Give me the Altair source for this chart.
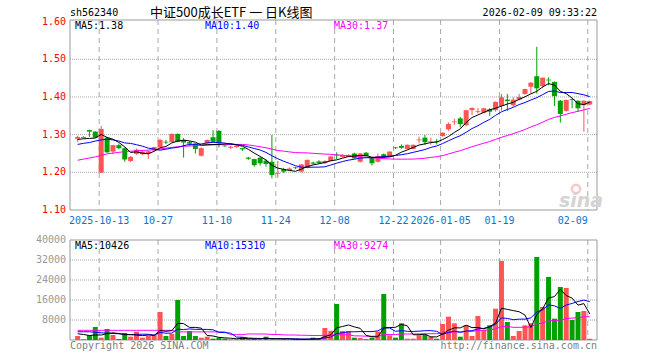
import altair as alt
import pandas as pd
import numpy as np

# ---- data (trading-day index 0..87, 2025-09-29 .. 2026-02-09)
opens = [1.289, 1.291, 1.312, 1.308, 1.199, 1.292, 1.255, 1.272, 1.264, 1.230,
         1.249, 1.248, 1.250, 1.258, 1.267, 1.281, 1.280, 1.302, 1.286, 1.280,
         1.276, 1.244, 1.277, 1.293, 1.310, 1.271, 1.265, 1.267, 1.264, 1.239,
         1.235, 1.239, 1.231, 1.228, 1.196, 1.208, 1.206, 1.213, 1.202, 1.212,
         1.226, 1.229, 1.224, 1.230, 1.247, 1.241, 1.241, 1.250, 1.228, 1.252,
         1.239, 1.228, 1.248, 1.241, 1.266, 1.270, 1.262, 1.262, 1.285, 1.292,
         1.280, 1.282, 1.296, 1.314, 1.333, 1.343, 1.325, 1.365, 1.360, 1.358,
         1.367, 1.365, 1.376, 1.393, 1.378, 1.393, 1.408, 1.427, 1.455, 1.429,
         1.446, 1.440, 1.390, 1.363, 1.394, 1.390, 1.378, 1.380]
highs = [1.297, 1.296, 1.313, 1.309, 1.323, 1.294, 1.273, 1.276, 1.266, 1.243,
         1.263, 1.258, 1.258, 1.268, 1.289, 1.286, 1.303, 1.303, 1.291, 1.283,
         1.277, 1.266, 1.287, 1.312, 1.312, 1.272, 1.270, 1.272, 1.265, 1.241,
         1.236, 1.240, 1.235, 1.299, 1.230, 1.212, 1.213, 1.215, 1.222, 1.234,
         1.228, 1.232, 1.232, 1.243, 1.253, 1.248, 1.248, 1.252, 1.251, 1.254,
         1.240, 1.250, 1.250, 1.256, 1.267, 1.274, 1.274, 1.274, 1.295, 1.299,
         1.292, 1.288, 1.306, 1.332, 1.342, 1.347, 1.366, 1.372, 1.371, 1.371,
         1.370, 1.388, 1.408, 1.408, 1.399, 1.408, 1.422, 1.439, 1.533, 1.452,
         1.452, 1.441, 1.392, 1.393, 1.395, 1.391, 1.391, 1.390]
lows = [1.280, 1.289, 1.294, 1.291, 1.198, 1.252, 1.248, 1.261, 1.228, 1.227,
        1.247, 1.246, 1.236, 1.257, 1.265, 1.275, 1.279, 1.280, 1.239, 1.270,
        1.250, 1.242, 1.276, 1.280, 1.266, 1.268, 1.262, 1.265, 1.257, 1.233,
        1.215, 1.218, 1.215, 1.184, 1.186, 1.198, 1.203, 1.209, 1.200, 1.211,
        1.221, 1.223, 1.222, 1.229, 1.235, 1.239, 1.240, 1.236, 1.226, 1.242,
        1.218, 1.226, 1.238, 1.240, 1.262, 1.262, 1.261, 1.261, 1.277, 1.273,
        1.273, 1.274, 1.295, 1.310, 1.326, 1.319, 1.322, 1.352, 1.356, 1.356,
        1.350, 1.361, 1.364, 1.363, 1.374, 1.391, 1.406, 1.409, 1.409, 1.423,
        1.431, 1.376, 1.332, 1.361, 1.370, 1.361, 1.308, 1.378]
closes = [1.294, 1.294, 1.308, 1.292, 1.315, 1.253, 1.272, 1.264, 1.234, 1.241,
          1.260, 1.255, 1.256, 1.267, 1.286, 1.279, 1.302, 1.281, 1.279, 1.276,
          1.262, 1.264, 1.286, 1.281, 1.277, 1.269, 1.268, 1.271, 1.261, 1.236,
          1.219, 1.224, 1.222, 1.193, 1.198, 1.202, 1.210, 1.211, 1.221, 1.233,
          1.223, 1.225, 1.230, 1.242, 1.245, 1.246, 1.246, 1.237, 1.250, 1.243,
          1.224, 1.243, 1.240, 1.255, 1.264, 1.265, 1.273, 1.273, 1.287, 1.280,
          1.282, 1.280, 1.305, 1.328, 1.335, 1.328, 1.365, 1.371, 1.362, 1.370,
          1.361, 1.387, 1.399, 1.389, 1.393, 1.400, 1.421, 1.438, 1.423, 1.451,
          1.444, 1.402, 1.355, 1.392, 1.392, 1.370, 1.390, 1.389]
volumes = [1600, 400, 1870, 5200, 930, 4400, 2000, 400, 2800, 1330,
           3300, 930, 1600, 2000, 11200, 1600, 2400, 16000, 1600, 3600,
           1600, 930, 1330, 530, 930, 530, 270, 270, 1200, 270,
           530, 270, 1330, 270, 270, 270, 270, 270, 270, 270,
           930, 530, 4800, 3700, 14400, 3600, 3600, 930, 800, 300,
           930, 3330, 18400, 1870, 930, 6670, 530, 530, 1870, 2000,
           1330, 530, 6400, 9330, 6670, 1330, 5870, 1600, 9600, 4000,
           5870, 12530, 31600, 7200, 1600, 3600, 5870, 6670, 33200, 13200,
           25200, 8530, 21200, 20800, 8000, 11200, 11600, 500]

# moving-average values before enough in-window data exist
ma5_head = [1.287, 1.289, 1.290, 1.291]
ma10_head = [1.274, 1.277, 1.279, 1.283, 1.286, 1.288, 1.286, 1.283, 1.278]
ma30_head = [1.232, 1.235, 1.238, 1.241, 1.245, 1.249, 1.251, 1.253, 1.255, 1.256,
             1.257, 1.258, 1.259, 1.260, 1.262, 1.264, 1.266, 1.268, 1.269, 1.270,
             1.271, 1.271, 1.272, 1.273, 1.273, 1.274, 1.274, 1.274, 1.274]
vma5_head = [2500, 2200, 1800, 2000]
vma10_head = [3300, 3300, 3300, 3100, 2900, 2700, 2600, 2500, 2300]
vma30_head = [3870] * 17 + [3250] * 9 + [2150] * 3

tick_idx = [4, 14, 24, 34, 44, 54, 62, 72]
tick_labels = ["2025-10-13", "10-27", "11-10", "11-24", "12-08", "12-22", "2026-01-05", "01-19"]
last_idx = [87]
last_label = ["02-09"]
price_ticks = [1.10, 1.20, 1.30, 1.40, 1.50, 1.60]
price_grid = [1.20, 1.30, 1.40, 1.50]
vol_ticks = [8000, 16000, 24000, 32000, 40000]
vol_grid = [8000, 16000, 24000, 32000]

RED = "#ff5454"
GREEN = "#00a000"
MONO = "DejaVu Sans Mono"
W, H = 527, 320
P_TOP, P_BOT = 0, 190
V_TOP, V_BOT = 220, 320

n = len(closes)
idx = np.arange(n)


def with_head(series, k, head):
    m = pd.Series(series, dtype=float).rolling(k).mean().to_numpy()
    m[:len(head)] = head
    return m


df = pd.DataFrame({
    "i": idx, "o": opens, "h": highs, "l": lows, "c": closes, "v": volumes,
    "ma5": with_head(closes, 5, ma5_head),
    "ma10": with_head(closes, 10, ma10_head),
    "ma30": with_head(closes, 30, ma30_head),
    "vma5": with_head(volumes, 5, vma5_head),
    "vma10": with_head(volumes, 10, vma10_head),
    "vma30": with_head(volumes, 30, vma30_head),
})
df["col"] = np.where(df["c"] >= df["o"], RED, GREEN)

xs = alt.Scale(domain=[-0.45, 87.38], range=[0, W], nice=False, zero=False)
ps = alt.Scale(domain=[1.10, 1.60], range=[P_BOT, 1.6], nice=False, zero=False)
vs = alt.Scale(domain=[0, 40000], range=[V_BOT, V_TOP], nice=False, zero=True)

X = alt.X("i:Q", scale=xs, axis=None)
base = alt.Chart(df)

ticks_df = pd.DataFrame({"i": tick_idx, "lbl": tick_labels})
last_df = pd.DataFrame({"i": last_idx, "lbl": last_label})
allticks_df = pd.DataFrame({"i": tick_idx + last_idx})

# ---------------- price panel
p_hgrid = alt.Chart(pd.DataFrame({"p": price_grid})).mark_rule(
    color="#a8a8a8", strokeDash=[1, 1], strokeWidth=1).encode(
    y=alt.Y("p:Q", scale=ps, axis=None), x=alt.value(0), x2=alt.value(W))
p_vgrid = alt.Chart(allticks_df).mark_rule(
    color="#a8a8a8", strokeDash=[5, 4], strokeWidth=1, xOffset=-2).encode(
    x=alt.X("i:Q", scale=xs, axis=None), y=alt.value(P_TOP), y2=alt.value(P_BOT))
wicks = base.mark_rule(strokeWidth=1).encode(
    x=X, y=alt.Y("l:Q", scale=ps, axis=None), y2="h:Q", color=alt.Color("col:N", scale=None))
bodies = base.mark_bar(size=5).encode(
    x=X, y=alt.Y("o:Q", scale=ps, axis=None), y2="c:Q", color=alt.Color("col:N", scale=None))
ma5_line = base.mark_line(color="black", strokeWidth=1).encode(
    x=X, y=alt.Y("ma5:Q", scale=ps, axis=None))
ma10_line = base.mark_line(color="#0000ff", strokeWidth=1).encode(
    x=X, y=alt.Y("ma10:Q", scale=ps, axis=None))
ma30_line = base.mark_line(color="#ff00ff", strokeWidth=1).encode(
    x=X, y=alt.Y("ma30:Q", scale=ps, axis=None))
p_border = alt.Chart(pd.DataFrame({"a": [0]})).mark_rect(
    fill=None, stroke="#999999", strokeWidth=1).encode(
    x=alt.value(0), x2=alt.value(W), y=alt.value(P_TOP), y2=alt.value(P_BOT))
p_labels = alt.Chart(pd.DataFrame({"p": price_ticks, "lbl": [f"{t:.2f}" for t in price_ticks]})).mark_text(
    align="right", baseline="middle", font=MONO, fontSize=10, color="#ff0000", dx=-4).encode(
    y=alt.Y("p:Q", scale=ps, axis=None), x=alt.value(0), text="lbl:N")
x_labels = alt.Chart(ticks_df).mark_text(
    align="center", baseline="middle", font=MONO, fontSize=10, color="#0a74cc", dx=-2).encode(
    x=alt.X("i:Q", scale=xs, axis=None), y=alt.value(201), text="lbl:N")
x_last = alt.Chart(last_df).mark_text(
    align="right", baseline="middle", font=MONO, fontSize=10, color="#0a74cc", dx=-2).encode(
    x=alt.X("i:Q", scale=xs, axis=None), y=alt.value(201), text="lbl:N")


def txt(s, x, y, color="black", align="left", size=10, font=MONO, **kw):
    return alt.Chart(pd.DataFrame({"t": [s]})).mark_text(
        align=align, baseline="middle", font=font, fontSize=size, color=color, **kw).encode(
        x=alt.value(x), y=alt.value(y), text="t:N")


p_texts = [
    txt("sh562340", 0, -7),
    txt("中证500成长ETF 一 日K线图", 80, -7, font="Noto Sans CJK SC", size=13),
    txt("2026-02-09 09:33:22", W, -7, align="right"),
    txt("MA5:1.38", 5, 6),
    txt("MA10:1.40", 135, 6, color="#0000ff"),
    txt("MA30:1.37", 264, 6, color="#ff00ff"),
    txt("sina", 511, 181, color="#d4d4d4", align="center", size=19,
        font="DejaVu Sans", fontStyle="italic", fontWeight="bold"),
]
logo_eye = alt.Chart(pd.DataFrame({"a": [0]})).mark_point(
    shape="circle", size=70, color="#f3b4b4", strokeWidth=2.5, filled=False).encode(
    x=alt.value(506), y=alt.value(169))

price = alt.layer(p_hgrid, p_vgrid, p_border, wicks, bodies, ma30_line, ma10_line, ma5_line,
                  p_labels, x_labels, x_last, logo_eye, *p_texts)

# ---------------- volume panel
v_hgrid = alt.Chart(pd.DataFrame({"v": vol_grid})).mark_rule(
    color="#a8a8a8", strokeDash=[1, 1], strokeWidth=1).encode(
    y=alt.Y("v:Q", scale=vs, axis=None), x=alt.value(0), x2=alt.value(W))
v_vgrid = alt.Chart(allticks_df).mark_rule(
    color="#a8a8a8", strokeDash=[5, 4], strokeWidth=1, xOffset=-2).encode(
    x=alt.X("i:Q", scale=xs, axis=None), y=alt.value(V_TOP), y2=alt.value(V_BOT))
vbars = base.mark_bar(size=5).encode(
    x=X, y=alt.Y("v:Q", scale=vs, axis=None), color=alt.Color("col:N", scale=None))
vma5_line = base.mark_line(color="black", strokeWidth=1).encode(
    x=X, y=alt.Y("vma5:Q", scale=vs, axis=None))
vma10_line = base.mark_line(color="#0000ff", strokeWidth=1).encode(
    x=X, y=alt.Y("vma10:Q", scale=vs, axis=None))
vma30_line = base.mark_line(color="#ff00ff", strokeWidth=1).encode(
    x=X, y=alt.Y("vma30:Q", scale=vs, axis=None))
v_border = alt.Chart(pd.DataFrame({"a": [0]})).mark_rect(
    fill=None, stroke="#999999", strokeWidth=1).encode(
    x=alt.value(0), x2=alt.value(W), y=alt.value(V_TOP), y2=alt.value(V_BOT))
v_labels = alt.Chart(pd.DataFrame({"v": vol_ticks, "lbl": [str(t) for t in vol_ticks]})).mark_text(
    align="right", baseline="middle", font=MONO, fontSize=10, color="#999999", dx=-4).encode(
    y=alt.Y("v:Q", scale=vs, axis=None), x=alt.value(0), text="lbl:N")
v_texts = [
    txt("MA5:10426", 5, 226),
    txt("MA10:15310", 135, 226, color="#0000ff"),
    txt("MA30:9274", 264, 226, color="#ff00ff"),
    txt("Copyright 2026 SINA.COM", 0, 326, color="#808080"),
    txt("http://finance.sina.com.cn", W, 326, color="#808080", align="right"),
]

volume = alt.layer(v_hgrid, v_vgrid, v_border, vbars, vma30_line, vma10_line, vma5_line,
                   v_labels, *v_texts)

chart = alt.layer(price, volume).resolve_scale(y="independent").properties(
    width=W, height=H,
    padding={"left": 70, "top": 20, "right": 63, "bottom": 20},
    autosize=alt.AutoSizeParams(type="none"),
    background="white",
).configure_view(stroke=None)

chart.save("out.html", embed_options={"renderer": "svg", "actions": False})
